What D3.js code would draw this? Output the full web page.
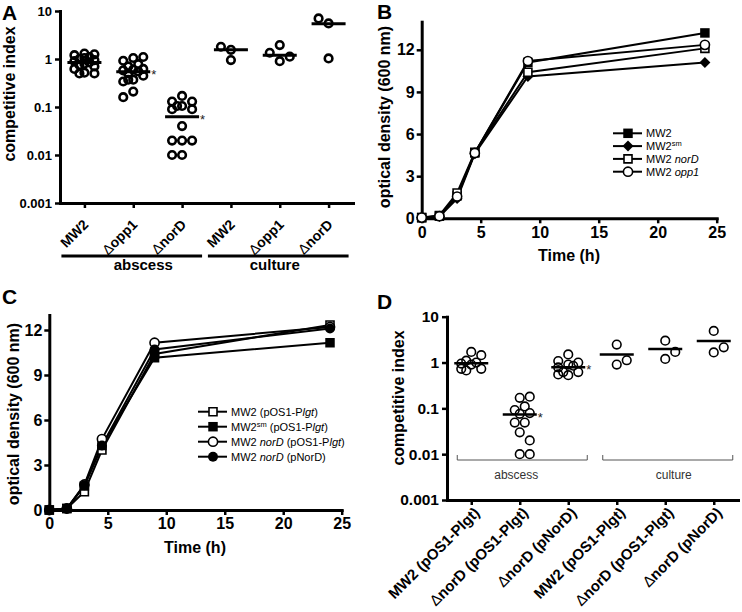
<!DOCTYPE html>
<html><head><meta charset="utf-8">
<script src="https://cdn.jsdelivr.net/npm/d3@7"></script>
<style>
body{margin:0;background:#fff;}
text{font-family:Arial,"Liberation Sans",Helvetica,sans-serif;}
</style></head><body>
<svg id="fig" width="742" height="612" xmlns="http://www.w3.org/2000/svg"></svg>
<script>
// ================= DATA =================
// Panel A
const catA = ["MW2", "Δopp1", "ΔnorD", "MW2", "Δopp1", "ΔnorD"];
const groupA = ["abscess", "culture"];
const ciTicks = [0.001, 0.01, 0.1, 1, 10];
const ciTickLabels = ["0.001", "0.01", "0.1", "1", "10"];
const aMW2Abs  = [1.3, 1.2, 1.25, 1.1, 1.0, 1.05, 0.95, 0.9, 0.85, 0.8, 0.75, 0.7, 0.62, 0.52, 0.5, 0.5];
const aOpp1Abs = [1.05, 0.92, 1.1, 0.78, 0.7, 0.62, 0.6, 0.58, 0.55, 0.5, 0.45, 0.37, 0.34, 0.37, 0.21, 0.16];
const aNorDAbs = [0.17, 0.13, 0.13, 0.105, 0.105, 0.09, 0.09, 0.04, 0.02, 0.02, 0.02, 0.01, 0.01];
const aMW2Cul  = [1.55, 1.8, 0.95];
const aOpp1Cul = [1.95, 0.9, 1.35, 1.12];
const aNorDCul = [5.5, 7.0, 1.03];
const aLines   = [0.85, 0.54, 0.063, 1.55, 1.2, 5.4];
const aStars   = [0, 1, 1, 0, 0, 0];

// Panel D
const catD = ["MW2 (pOS1-Plgt)", "ΔnorD (pOS1-Plgt)", "ΔnorD (pNorD)", "MW2 (pOS1-Plgt)", "ΔnorD (pOS1-Plgt)", "ΔnorD (pNorD)"];
const groupD = ["abscess", "culture"];
const dMW2Abs   = [1.7, 1.45, 1.1, 1.0, 0.95, 0.9, 0.73, 0.67, 0.73];
const dNorDAbs  = [0.17, 0.18, 0.11, 0.092, 0.079, 0.076, 0.049, 0.049, 0.03, 0.02, 0.01, 0.01];
const dPNorDAbs = [1.5, 1.0, 1.08, 0.9, 0.85, 0.78, 0.62, 0.53, 0.62, 0.55];
const dMW2Cul   = [2.47, 0.9, 1.12];
const dNorDCul  = [3.0, 1.2, 1.7];
const dPNorDCul = [4.9, 1.66, 2.15];
const dLines    = [0.97, 0.073, 0.79, 1.49, 1.98, 2.95];
const dStars    = [0, 1, 1, 0, 0, 0];

// Panels B and C (growth curves)
const times = [0, 1.5, 3, 4.5, 9, 24];
const timeTicks = [0, 5, 10, 15, 20, 25];
const odTicks = [0, 3, 6, 9, 12];
const bMW2   = [0.05, 0.15, 1.6, 4.65, 11.1, 13.2];
const bMW2sm = [0.05, 0.12, 1.4, 4.6, 10.1, 11.1];
const bNorD  = [0.05, 0.2, 1.8, 4.7, 10.4, 12.1];
const bOpp1  = [0.05, 0.15, 1.55, 4.65, 11.2, 12.35];
const bMarkers = ["sqF", "diaF", "sqO", "cirO"];
const bLegend = [
  [{t: "MW2"}],
  [{t: "MW2"}, {t: "sm", sup: 1}],
  [{t: "MW2 "}, {t: "norD", i: 1}],
  [{t: "MW2 "}, {t: "opp1", i: 1}]
];

const cMW2pOS   = [0, 0.1, 1.22, 4.0, 10.4, 12.33];
const cMW2smpOS = [0, 0.1, 1.6, 4.3, 10.15, 11.15];
const cNorDpOS  = [0, 0.1, 1.7, 4.73, 11.15, 12.2];
const cNorDpNor = [0, 0.1, 1.65, 4.3, 10.7, 12.1];
const cMarkers = ["sqO", "sqF", "cirO", "cirF"];
const cLegend = [
  [{t: "MW2 (pOS1-P"}, {t: "lgt", i: 1}, {t: ")"}],
  [{t: "MW2"}, {t: "sm", sup: 1}, {t: " (pOS1-P"}, {t: "lgt", i: 1}, {t: ")"}],
  [{t: "MW2 "}, {t: "norD", i: 1}, {t: " (pOS1-P"}, {t: "lgt", i: 1}, {t: ")"}],
  [{t: "MW2 "}, {t: "norD", i: 1}, {t: " (pNorD)"}]
];

// ================= DRAWING =================
const svg = d3.select("#fig");

function runs(text, arr) {
  let up = false;
  arr.forEach(r => {
    const ts = text.append("tspan").text(r.t);
    if (r.i) ts.attr("font-style", "italic");
    if (r.sup) { ts.attr("font-size", "7.5px").attr("dy", "-4"); up = true; }
    else if (up) { ts.attr("dy", "4"); up = false; }
  });
}

function swarm(values, y, cx, d, step, maxOff, dir) {
  const placed = [];
  const cands = [0];
  for (let k = step; k <= maxOff + 1e-9; k += step) cands.push(dir * k, -dir * k);
  values.forEach(v => {
    const py = y(v);
    let chosen = null, bestC = 0, bestS = -1;
    for (const c of cands) {
      let m = Infinity;
      placed.forEach(p => { const dd = Math.hypot(p.x - (cx + c), p.y - py); if (dd < m) m = dd; });
      if (m >= d) { chosen = c; break; }
      if (m > bestS) { bestS = m; bestC = c; }
    }
    if (chosen === null) chosen = bestC;
    placed.push({x: cx + chosen, y: py, v: v});
  });
  return placed;
}

function scatterPanel(o) {
  const g = svg.append("g");
  const x = d3.scalePoint().domain(d3.range(o.cats.length)).range([o.x0, o.x1]).padding(0.5);
  const y = d3.scaleLog().domain([0.001, 10]).range([o.yBot, o.yTop]);

  const ya = g.append("g").attr("transform", `translate(${o.x0},0)`)
    .call(d3.axisLeft(y).tickValues(ciTicks).tickFormat((d, i) => ciTickLabels[i]).tickSize(5).tickSizeOuter(0).tickPadding(3));
  ya.select(".domain").attr("stroke-width", o.axisW).attr("stroke-linecap", "square");
  ya.selectAll(".tick line").attr("stroke-width", o.tickW);
  ya.selectAll(".tick text").attr("font-size", o.tickFont).attr("font-weight", "bold").attr("fill", "#000");

  const xa = g.append("g").attr("transform", `translate(0,${o.yBot})`)
    .call(d3.axisBottom(x).tickSize(5).tickSizeOuter(0));
  xa.select(".domain").attr("stroke-width", o.axisW).attr("stroke-linecap", "square");
  xa.selectAll(".tick line").attr("stroke-width", o.tickW);
  xa.selectAll(".tick text").each(function (i) {
    const s = o.cats[i];
    const t = d3.select(this).text("");
    if (s.startsWith("Δ")) {
      t.append("tspan").attr("font-weight", "normal").text("Δ");
      t.append("tspan").text(s.slice(1));
    } else t.text(s);
  }).attr("x", 0).attr("y", 0).attr("dy", "0.35em").attr("text-anchor", "end")
    .attr("font-size", o.catFont).attr("font-weight", "bold").attr("fill", "#000")
    .attr("transform", `translate(${o.labDx},${o.labDy}) rotate(-45)`);
  g.selectAll(".tick text").attr("font-family", null).style("font-family", 'Arial,"Liberation Sans",sans-serif');

  // y label
  g.append("text").attr("transform", `translate(${o.ylabX},${o.ylabY}) rotate(-90)`)
    .attr("text-anchor", "middle").attr("font-size", 16).attr("font-weight", "bold").text("competitive index");

  // points
  o.series.forEach((vals, i) => {
    const pts = swarm(vals, y, x(i), o.collide, o.collide / 2, o.maxOff, o.dir);
    g.append("g").selectAll("circle").data(pts).join("circle")
      .attr("cx", p => p.x).attr("cy", p => p.y).attr("r", o.r)
      .attr("fill", "none").attr("stroke", "#000").attr("stroke-width", o.cw);
  });
  // center lines
  o.lines.forEach((v, i) => {
    g.append("line").attr("x1", x(i) - o.lineHalf).attr("x2", x(i) + o.lineHalf)
      .attr("y1", y(v)).attr("y2", y(v)).attr("stroke", "#000").attr("stroke-width", o.lineW);
    if (o.stars[i]) {
      g.append("text").attr("x", x(i) + o.lineHalf + 1).attr("y", y(v) + 7)
        .attr("font-size", 13).attr("fill", "#222").text("*");
    }
  });
  return {g, x, y};
}

// ---------- Panel A ----------
const pA = scatterPanel({
  x0: 60, x1: 353, yTop: 11, yBot: 203, cats: catA,
  axisW: 3, tickW: 2.5, tickFont: 13, catFont: 14, labDx: 1, labDy: 19,
  ylabX: 15, ylabY: 94,
  series: [aMW2Abs, aOpp1Abs, aNorDAbs, aMW2Cul, aOpp1Cul, aNorDCul],
  lines: aLines, stars: aStars, r: 3.8, cw: 2.6, collide: 10, maxOff: 10, dir: -1,
  lineHalf: 17, lineW: 3
});
// group bars A
[[0, 2], [3, 5]].forEach((rg, k) => {
  const x1 = pA.x(rg[0]) - 23, x2 = pA.x(rg[1]) + 20;
  pA.g.append("line").attr("x1", x1).attr("x2", x2).attr("y1", 256).attr("y2", 256)
    .attr("stroke", "#000").attr("stroke-width", 3);
  pA.g.append("text").attr("x", k === 0 ? pA.x(1) + 10 : pA.x(4) - 5).attr("y", 270)
    .attr("text-anchor", "middle").attr("font-size", 15).attr("font-weight", "bold").text(groupA[k]);
});
svg.append("text").attr("x", 2).attr("y", 20).attr("font-size", 21).attr("font-weight", "bold").text("A");

// ---------- Panel D ----------
const pD = scatterPanel({
  x0: 447, x1: 738, yTop: 316.7, yBot: 500, cats: catD,
  axisW: 3, tickW: 2.5, tickFont: 15.5, catFont: 15, labDx: 5, labDy: 10,
  ylabX: 404, ylabY: 398,
  series: [dMW2Abs, dNorDAbs, dPNorDAbs, dMW2Cul, dNorDCul, dPNorDCul],
  lines: dLines, stars: dStars, r: 4.3, cw: 1.6, collide: 10, maxOff: 10, dir: 1,
  lineHalf: 17, lineW: 2.5
});
[[0, 2], [3, 5]].forEach((rg, k) => {
  const x1 = pD.x(rg[0]) - 14, x2 = pD.x(rg[1]) + 19;
  pD.g.append("path").attr("d", `M${x1},455V460H${x2}V455`).attr("fill", "none")
    .attr("stroke", "#555").attr("stroke-width", 1);
  pD.g.append("text").attr("x", (x1 + x2) / 2 + (k === 0 ? -6 : 6)).attr("y", 479)
    .attr("text-anchor", "middle").attr("font-size", 12).attr("fill", "#333").text(groupD[k]);
});
svg.append("text").attr("x", 377).attr("y", 309).attr("font-size", 21).attr("font-weight", "bold").text("D");

// ---------- line panels ----------
function marker(sel, type, cx, cy) {
  const sq = d3.symbol().type(d3.symbolSquare);
  const ci = d3.symbol().type(d3.symbolCircle);
  let p;
  if (type === "sqF") p = sel.append("path").attr("d", sq.size(90)()).attr("fill", "#000");
  else if (type === "sqO") p = sel.append("path").attr("d", sq.size(64)()).attr("fill", "#fff").attr("stroke", "#000").attr("stroke-width", 1.6);
  else if (type === "diaF") p = sel.append("path").attr("d", sq.size(60)()).attr("fill", "#000");
  else if (type === "cirO") p = sel.append("path").attr("d", ci.size(66)()).attr("fill", "#fff").attr("stroke", "#000").attr("stroke-width", 1.6);
  else p = sel.append("path").attr("d", ci.size(78)()).attr("fill", "#000");
  p.attr("transform", `translate(${cx},${cy})` + (type === "diaF" ? " rotate(45)" : ""));
}

function linePanel(o) {
  const g = svg.append("g");
  const x = d3.scaleLinear().domain([0, 25]).range([o.x0, o.x1]);
  const y = d3.scaleLinear().domain([0, o.yMax]).range([o.yBot, o.yTop]);
  const ya = g.append("g").attr("transform", `translate(${o.x0},0)`)
    .call(d3.axisLeft(y).tickValues(odTicks).tickSize(5).tickSizeOuter(0).tickPadding(2));
  const xa = g.append("g").attr("transform", `translate(0,${o.yBot})`)
    .call(d3.axisBottom(x).tickValues(timeTicks).tickSize(5).tickSizeOuter(0).tickPadding(3));
  [ya, xa].forEach(a => {
    a.select(".domain").attr("stroke-width", 3).attr("stroke-linecap", "square");
    a.selectAll(".tick line").attr("stroke-width", 2.5);
    a.selectAll(".tick text").attr("font-size", 16).attr("font-weight", "bold").attr("fill", "#000")
      .attr("font-family", null).style("font-family", 'Arial,"Liberation Sans",sans-serif');
  });
  g.append("text").attr("transform", `translate(${o.ylabX},${o.ylabY}) rotate(-90)`)
    .attr("text-anchor", "middle").attr("font-size", 16).attr("font-weight", "bold").text("optical density (600 nm)");
  g.append("text").attr("x", o.xlabX).attr("y", o.xlabY).attr("text-anchor", "middle")
    .attr("font-size", 16).attr("font-weight", "bold").text("Time (h)");

  const line = d3.line().x((d, i) => x(times[i])).y(d => y(d));
  o.series.forEach(s => g.append("path").attr("d", line(s)).attr("fill", "none").attr("stroke", "#000").attr("stroke-width", 2));
  o.series.forEach((s, k) => s.forEach((v, i) => marker(g, o.markers[k], x(times[i]), y(v))));

  // legend
  o.legend.forEach((lab, k) => {
    const ly = o.legY + k * o.legDy;
    g.append("line").attr("x1", o.legX).attr("x2", o.legX + 29).attr("y1", ly).attr("y2", ly)
      .attr("stroke", "#000").attr("stroke-width", 2);
    marker(g, o.markers[k], o.legX + 15, ly);
    const t = g.append("text").attr("x", o.legX + 33).attr("y", ly + 4).attr("font-size", 11);
    runs(t, lab);
  });
}

linePanel({
  x0: 421.7, x1: 716.7, yBot: 218.3, yTop: 21.7, yMax: 14,
  ylabX: 390, ylabY: 117, xlabX: 569, xlabY: 261,
  series: [bMW2, bMW2sm, bNorD, bOpp1], markers: bMarkers, legend: bLegend,
  legX: 613, legY: 133.3, legDy: 12.8
});
svg.append("text").attr("x", 377).attr("y", 19).attr("font-size", 21).attr("font-weight", "bold").text("B");

linePanel({
  x0: 49.3, x1: 341.7, yBot: 510, yTop: 315, yMax: 13,
  ylabX: 19, ylabY: 414, xlabX: 195, xlabY: 553,
  series: [cMW2pOS, cMW2smpOS, cNorDpOS, cNorDpNor], markers: cMarkers, legend: cLegend,
  legX: 198, legY: 411.7, legDy: 15
});
svg.append("text").attr("x", 2).attr("y", 304).attr("font-size", 21).attr("font-weight", "bold").text("C");
</script>
</body></html>
